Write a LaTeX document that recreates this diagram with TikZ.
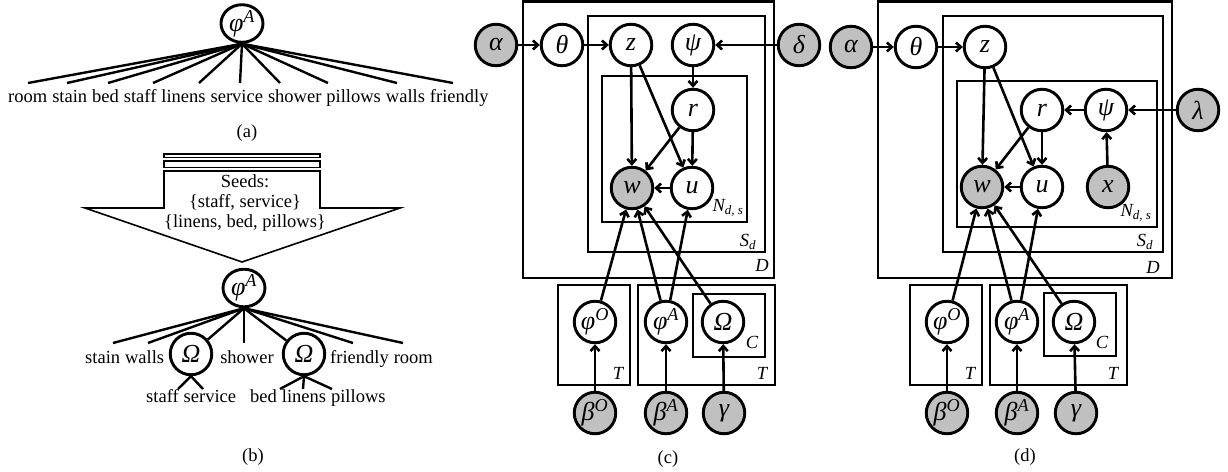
\documentclass[tikz,border=0pt]{standalone}
\usepackage{fontspec}
\setmainfont{Liberation Serif}
\usetikzlibrary{arrows.meta,shapes.geometric}
\definecolor{obsgray}{RGB}{192,192,192}
\newcommand\wfont{\fontsize{18.5}{20}\selectfont}
\newcommand\nfont{\fontsize{26}{28}\selectfont\itshape}
\begin{document}
\begin{tikzpicture}[x=1pt,y=-1pt,
  var/.style={circle, draw, line width=2.9pt, minimum size=41.5pt, inner sep=0pt, font=\nfont, fill=white},
  obs/.style={var, fill=obsgray},
  ell/.style={ellipse, draw, line width=2.9pt, minimum width=42pt, minimum height=35pt, inner sep=0pt, font=\nfont},
  edge/.style={line width=2.6pt, -{Straight Barb[length=5pt,width=9pt]}},
  leg/.style={line width=2.4pt},
  plate/.style={line width=2.9pt},
  word/.style={inner sep=0pt, font=\wfont, anchor=base west},
  lab/.style={inner sep=0pt, font=\wfont\itshape},
  capt/.style={inner sep=0pt, font=\wfont}]
\useasboundingbox (0,0) rectangle (1228,471);

% ---------------- (a)
\node[ell] (phiA1) at (242,23.5) {φ\textsuperscript{A}};
\node[word] (a1) at (8,102) {room};
\node[word] (a2) at ([xshift=4.6pt]a1.base east) {stain};
\node[word] (a3) at ([xshift=4.6pt]a2.base east) {bed};
\node[word] (a4) at ([xshift=4.6pt]a3.base east) {staff};
\node[word] (a5) at ([xshift=4.6pt]a4.base east) {linens};
\node[word] (a6) at ([xshift=4.6pt]a5.base east) {service};
\node[word] (a7) at ([xshift=4.6pt]a6.base east) {shower};
\node[word] (a8) at ([xshift=4.6pt]a7.base east) {pillows};
\node[word] (a9) at ([xshift=4.6pt]a8.base east) {walls};
\node[word] (a10) at ([xshift=4.6pt]a9.base east) {friendly};
\foreach \i/\x in {1/28,2/67,3/108,4/153,5/199,6/240,7/280,8/328,9/397,10/453}{
  \coordinate (ea\i) at (\x,83);
  \draw[leg] (phiA1.south) -- (ea\i);
}
\node[capt] (capa) at (247,133) {(a)};

% ---------------- (b)
\draw[line width=1.6pt, fill=white] (164,154) rectangle (320,157.3);
\draw[line width=1.6pt, fill=white] (164,161) rectangle (320,167.3);
\draw[line width=1.6pt] (164,171) -- (164,208) -- (85,208) -- (242,262) -- (400,208) -- (320,208) -- (320,171) -- cycle;
\node[capt, align=center, font=\fontsize{18.5}{20}\selectfont] (seeds) at (245,203)
  {Seeds:\\\{staff, service\}\\\{linens, bed, pillows\}};
\node[ell] (phiA2) at (244,288) {φ\textsuperscript{A}};
\node[var] (om1) at (191,354) {Ω};
\node[var] (om2) at (304,354) {Ω};
\node[word] (b1) at (85,363) {stain};
\node[word] (b2) at ([xshift=4.6pt]b1.base east) {walls};
\node[word, anchor=base] (b3) at (247,363) {shower};
\node[word] (b4) at (330,363) {friendly};
\node[word] (b5) at ([xshift=4.6pt]b4.base east) {room};
\foreach \i/\x in {1/113,2/148,3/244,4/353,5/403}{
  \coordinate (eb\i) at (\x,343);
  \draw[leg] (phiA2.south) -- (eb\i);
}
\draw[leg] (phiA2.south) -- (om1);
\draw[leg] (phiA2.south) -- (om2);
\node[word] (c1) at (146,402) {staff};
\node[word] (c2) at ([xshift=4.6pt]c1.base east) {service};
\node[word] (c3) at (250,402) {bed};
\node[word] (c4) at ([xshift=4.6pt]c3.base east) {linens};
\node[word] (c5) at ([xshift=4.6pt]c4.base east) {pillows};
\coordinate (ec1) at (178,389); \coordinate (ec2) at (203,389);
\coordinate (ec3) at (280,389); \coordinate (ec4) at (303,389); \coordinate (ec5) at (332,389);
\draw[leg] (om1.south) -- (ec1);
\draw[leg] (om1.south) -- (ec2);
\draw[leg] (om2.south) -- (ec3);
\draw[leg] (om2.south) -- (ec4);
\draw[leg] (om2.south) -- (ec5);
\node[capt] (capb) at (253,457) {(b)};

% ---------------- (c)
\draw[plate] (523,1.5) rectangle (774,278);
\draw[plate] (588,16) rectangle (765,252);
\draw[plate] (602,76) rectangle (747,222);
\draw[plate] (558,285) rectangle (630,385);
\draw[plate] (638,285) rectangle (775,385);
\draw[plate] (693,294) rectangle (765,357);
\node[lab] (cN) at (728,208) {N\textsubscript{\textit{d, s}}};
\node[lab] (cS) at (748,242) {S\textsubscript{\textit{d}}};
\node[lab] (cD) at (762,265) {D};
\node[lab] (cT1) at (618,373) {T};
\node[lab] (cT2) at (762,373) {T};
\node[lab] (cC) at (752,342) {C};
\node[obs] (calpha) at (496,45) {α};
\node[var] (ctheta) at (562,45) {θ};
\node[var] (cz) at (631,45) {z};
\node[var] (cpsi) at (693,45) {ψ};
\node[obs] (cdelta) at (799,45) {δ};
\node[var] (cr) at (693,110) {r};
\node[obs] (cw) at (632,188) {w};
\node[var] (cu) at (692,188) {u};
\node[var] (cphiO) at (595,322) {φ\textsuperscript{O}};
\node[var] (cphiA) at (666,322) {φ\textsuperscript{A}};
\node[var] (cOm) at (723,322) {Ω};
\node[obs] (cbO) at (595,413) {β\textsuperscript{O}};
\node[obs] (cbA) at (666,413) {β\textsuperscript{A}};
\node[obs] (cgam) at (724,413) {γ};
\draw[edge] (calpha) -- (ctheta);
\draw[edge] (ctheta) -- (cz);
\draw[edge] (cdelta) -- (cpsi);
\draw[edge] (cpsi) -- (cr);
\draw[edge] (cz) -- (cw);
\draw[edge] (cz) -- (cu);
\draw[edge] (cr) -- (cw);
\draw[edge] (cr) -- (cu);
\draw[edge] (cu) -- (cw);
\draw[edge] (cbO) -- (cphiO);
\draw[edge] (cbA) -- (cphiA);
\draw[edge] (cgam) -- (cOm);
\draw[edge] (cphiO) -- (cw);
\draw[edge] (cphiA) -- (cw);
\draw[edge] (cphiA) -- (cu);
\draw[edge] (cOm) -- (cw);
\node[capt] (capc) at (668,459) {(c)};

% ---------------- (d)
\draw[plate] (878,1.5) rectangle (1172,278);
\draw[plate] (943,16) rectangle (1163,252);
\draw[plate] (957,81) rectangle (1157,227);
\draw[plate] (910,285) rectangle (982,385);
\draw[plate] (990,285) rectangle (1127,385);
\draw[plate] (1044,293) rectangle (1116,356);
\node[lab] (dN) at (1136,213) {N\textsubscript{\textit{d, s}}};
\node[lab] (dS) at (1145,242) {S\textsubscript{\textit{d}}};
\node[lab] (dD) at (1153,267) {D};
\node[lab] (dT1) at (970,373) {T};
\node[lab] (dT2) at (1113,373) {T};
\node[lab] (dC) at (1102,342) {C};
\node[obs] (dalpha) at (851,47) {α};
\node[var] (dtheta) at (916,47) {θ};
\node[var] (dz) at (985,47) {z};
\node[var] (dr) at (1042,110) {r};
\node[var] (dpsi) at (1106,110) {ψ};
\node[obs] (dlam) at (1198,110) {λ};
\node[obs] (dw) at (982,187) {w};
\node[var] (du) at (1042,187) {u};
\node[obs] (dx) at (1108,187) {x};
\node[var] (dphiO) at (947,322) {φ\textsuperscript{O}};
\node[var] (dphiA) at (1017,322) {φ\textsuperscript{A}};
\node[var] (dOm) at (1074,322) {Ω};
\node[obs] (dbO) at (947,413) {β\textsuperscript{O}};
\node[obs] (dbA) at (1017,413) {β\textsuperscript{A}};
\node[obs] (dgam) at (1076,413) {γ};
\draw[edge] (dalpha) -- (dtheta);
\draw[edge] (dtheta) -- (dz);
\draw[edge] (dz) -- (dw);
\draw[edge] (dz) -- (du);
\draw[edge] (dr) -- (dw);
\draw[edge] (dr) -- (du);
\draw[edge] (du) -- (dw);
\draw[edge] (dpsi) -- (dr);
\draw[edge] (dlam) -- (dpsi);
\draw[edge] (dx) -- (dpsi);
\draw[edge] (dbO) -- (dphiO);
\draw[edge] (dbA) -- (dphiA);
\draw[edge] (dgam) -- (dOm);
\draw[edge] (dphiO) -- (dw);
\draw[edge] (dphiA) -- (dw);
\draw[edge] (dphiA) -- (du);
\draw[edge] (dOm) -- (dw);
\node[capt] (capd) at (1025,457) {(d)};
\end{tikzpicture}
\end{document}
